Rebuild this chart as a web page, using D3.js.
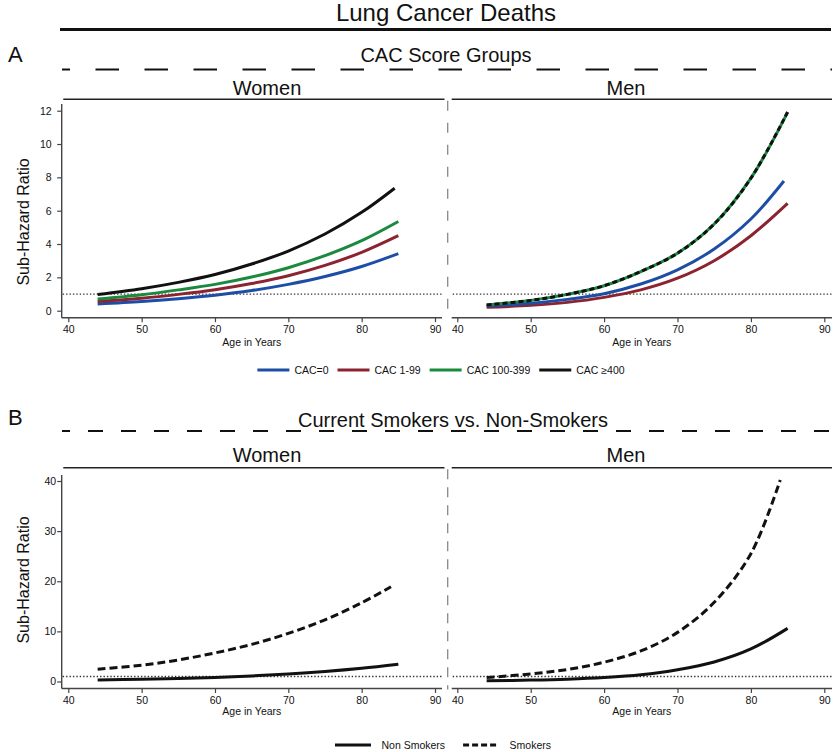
<!DOCTYPE html>
<html><head><meta charset="utf-8">
<script src="https://cdn.jsdelivr.net/npm/d3@7"></script>
<style>
body{margin:0;background:#fff}
svg{display:block}
text{font-family:"Liberation Sans",Arial,Helvetica,sans-serif;fill:#111}
</style>
</head><body>
<svg id="chart" width="837" height="752"></svg>
<script>
// ---------------- DATA ----------------
const ages      = [44, 50, 55, 60, 65, 70, 75, 80, 85];
const agesTo845 = [44, 50, 55, 60, 65, 70, 75, 80, 84.5];
const agesTo84  = [44, 50, 55, 60, 65, 70, 75, 80, 84];

const xTicks  = [40, 50, 60, 70, 80, 90];
const yTicksA = [0, 2, 4, 6, 8, 10, 12];
const yTicksB = [0, 10, 20, 30, 40];

const cacLabels = ["CAC=0", "CAC 1-99", "CAC 100-399", "CAC \u2265400"];
const cacColors = ["#1d4ea6", "#8c2330", "#1b8a3e", "#111111"];

// Panel A, women
const cac0W   = [0.40, 0.55, 0.72, 0.93, 1.21, 1.58, 2.05, 2.65, 3.42];
const cac1W   = [0.55, 0.75, 0.98, 1.26, 1.63, 2.10, 2.72, 3.50, 4.50];
const cac100W = [0.70, 0.96, 1.25, 1.58, 2.02, 2.58, 3.30, 4.20, 5.35];
const cac400W = [0.97, 1.32, 1.70, 2.17, 2.80, 3.58, 4.60, 5.90, 7.35];
// Panel A, men
const cac0M   = [0.28, 0.45, 0.68, 1.02, 1.60, 2.45, 3.70, 5.50, 7.78];
const cac1M   = [0.20, 0.32, 0.50, 0.80, 1.25, 1.95, 3.00, 4.50, 6.44];
const cac100M = [0.34, 0.62, 0.98, 1.50, 2.35, 3.45, 5.20, 7.95, 11.90];
const cac400M = [0.34, 0.62, 0.98, 1.50, 2.35, 3.45, 5.20, 7.95, 11.92];

const smokeLabels = ["Non Smokers", "Smokers"];
// Panel B
const nonSmkW = [0.32, 0.45, 0.60, 0.82, 1.10, 1.48, 1.98, 2.62, 3.43];
const smkW    = [2.45, 3.25, 4.30, 5.70, 7.40, 9.60, 12.3, 15.7, 18.9];
const nonSmkM = [0.15, 0.28, 0.47, 0.80, 1.35, 2.35, 3.90, 6.50, 10.6];
const smkM    = [0.80, 1.50, 2.40, 3.85, 6.10, 9.80, 15.8, 25.5, 40.2];

// ---------------- DRAW ----------------
const svg = d3.select("#chart");
const zip = (xs, ys) => xs.map((x, i) => [x, ys[i]]);

svg.append("text").attr("x", 446).attr("y", 21).attr("text-anchor", "middle")
  .attr("font-size", 24).text("Lung Cancer Deaths");
svg.append("line").attr("x1", 60).attr("x2", 831).attr("y1", 29.5).attr("y2", 29.5)
  .attr("stroke", "#111").attr("stroke-width", 3);

const panelsX = [
  {sex: "Women", range: [68.3, 435], axis: [61.7, 442], strip: [63.3, 444.5], labelX: 267, hasY: true},
  {sex: "Men",   range: [457.3, 824.3], axis: [451.7, 832], strip: [451.7, 832], labelX: 626, hasY: false}
];

function section(o) {
  svg.append("text").attr("x", 8).attr("y", o.letterY).attr("font-size", 22).text(o.letter);
  svg.append("line").attr("x1", 62).attr("x2", 832).attr("y1", o.dashY).attr("y2", o.dashY)
    .attr("stroke", "#111").attr("stroke-width", 2)
    .attr("stroke-dasharray", o.dash).attr("stroke-dashoffset", o.dashOffset);
  svg.append("text").attr("x", o.titleX).attr("y", o.titleY).attr("text-anchor", "middle")
    .attr("font-size", 20).text(o.title);

  const y = d3.scaleLinear().domain(o.yDomain).range(o.yRange);

  panelsX.forEach((p, pi) => {
    const x = d3.scaleLinear().domain([40, 90]).range(p.range);
    const g = svg.append("g");
    // strip
    g.append("text").attr("x", p.labelX).attr("y", o.stripTextY).attr("text-anchor", "middle")
      .attr("font-size", 20).text(p.sex);
    g.append("line").attr("x1", p.strip[0]).attr("x2", p.strip[1])
      .attr("y1", o.stripY).attr("y2", o.stripY).attr("stroke", "#222").attr("stroke-width", 1.6);
    // x axis
    const xa = g.append("g").attr("transform", `translate(0,${o.axisY})`)
      .call(d3.axisBottom(x).tickValues(xTicks).tickSize(4.5).tickPadding(3.5).tickSizeOuter(0));
    xa.select(".domain").remove();
    xa.selectAll("line").attr("stroke", "#444").attr("stroke-width", 1.2);
    xa.selectAll("text").attr("font-size", 10.5).attr("fill", "#111")
      .attr("font-family", '"Liberation Sans",Arial,sans-serif');
    g.append("line").attr("x1", p.axis[0]).attr("x2", p.axis[1]).attr("y1", o.axisY).attr("y2", o.axisY)
      .attr("stroke", "#444").attr("stroke-width", 1.4);
    g.append("text").attr("x", (p.axis[0] + p.axis[1]) / 2).attr("y", o.xLabelY)
      .attr("text-anchor", "middle").attr("font-size", 10.5).text("Age in Years");
    // y axis
    if (p.hasY) {
      const ya = g.append("g").attr("transform", `translate(${p.axis[0]},0)`)
        .call(d3.axisLeft(y).tickValues(o.yTicks).tickSize(4.5).tickPadding(o.yPad).tickSizeOuter(0));
      ya.select(".domain").remove();
      ya.selectAll("line").attr("stroke", "#444").attr("stroke-width", 1.2);
      ya.selectAll("text").attr("font-size", 10.5).attr("fill", "#111")
        .attr("font-family", '"Liberation Sans",Arial,sans-serif');
      g.append("line").attr("x1", p.axis[0]).attr("x2", p.axis[0]).attr("y1", o.yTop).attr("y2", o.axisY)
        .attr("stroke", "#444").attr("stroke-width", 1.4);
      g.append("text").attr("transform", `translate(28.5,${o.yLabelY}) rotate(-90)`)
        .attr("text-anchor", "middle").attr("font-size", 16).text("Sub-Hazard Ratio");
    } else {
      // dashed separator between panels
      g.append("line").attr("x1", 447.7).attr("x2", 447.7).attr("y1", o.stripY + 1.5).attr("y2", o.axisY + 1)
        .attr("stroke", "#888").attr("stroke-width", 1.3).attr("stroke-dasharray", o.sepDash);
    }
    // reference line at 1
    g.append("line").attr("x1", p.axis[0] + 1).attr("x2", p.axis[1]).attr("y1", y(1)).attr("y2", y(1))
      .attr("stroke", "#333").attr("stroke-width", 1.3).attr("stroke-dasharray", "1.4,2");
    // curves
    const line = d3.line().x(d => x(d[0])).y(d => y(d[1])).curve(d3.curveCatmullRom.alpha(0.5));
    o.series[pi].forEach(s => {
      g.append("path").datum(zip(s.ages, s.values)).attr("d", line)
        .attr("fill", "none").attr("stroke", s.color).attr("stroke-width", 3)
        .attr("stroke-dasharray", s.dash || null);
    });
  });
}

section({
  letter: "A", letterY: 62, title: "CAC Score Groups", titleX: 446, titleY: 61.5,
  dashY: 69.5, dash: "23.5,25.5", dashOffset: 15.5,
  stripTextY: 95, stripY: 99.3, axisY: 317.7, yTop: 104,
  yDomain: [0, 12], yRange: [310.7, 110.7], yTicks: yTicksA, yPad: 5.5, yLabelY: 222,
  xLabelY: 346, sepDash: "10,12",
  series: [
    [
      {ages: ages, values: cac0W, color: cacColors[0]},
      {ages: ages, values: cac1W, color: cacColors[1]},
      {ages: ages, values: cac100W, color: cacColors[2]},
      {ages: agesTo845, values: cac400W, color: cacColors[3]}
    ],
    [
      {ages: ages, values: cac1M, color: cacColors[1]},
      {ages: agesTo845, values: cac0M, color: cacColors[0]},
      {ages: ages, values: cac100M, color: cacColors[2]},
      {ages: ages, values: cac400M, color: cacColors[3], dash: "5,3"}
    ]
  ]
});

section({
  letter: "B", letterY: 425, title: "Current Smokers vs. Non-Smokers", titleX: 453, titleY: 427.3,
  dashY: 431, dash: "15,18", dashOffset: 7,
  stripTextY: 462, stripY: 467.7, axisY: 688.5, yTop: 475,
  yDomain: [0, 40], yRange: [681.5, 481], yTicks: yTicksB, yPad: 1, yLabelY: 580,
  xLabelY: 715, sepDash: "10,8",
  series: [
    [
      {ages: ages, values: nonSmkW, color: "#111"},
      {ages: agesTo84, values: smkW, color: "#111", dash: "8,4"}
    ],
    [
      {ages: ages, values: nonSmkM, color: "#111"},
      {ages: agesTo84, values: smkM, color: "#111", dash: "8,4"}
    ]
  ]
});

// ---------------- LEGENDS ----------------
function legend(items, cy, lineLen, textGap, itemGap, centerX) {
  const g = svg.append("g");
  let cx = 0;
  items.forEach(it => {
    g.append("line").attr("x1", cx).attr("x2", cx + lineLen).attr("y1", cy).attr("y2", cy)
      .attr("stroke", it.color).attr("stroke-width", 3).attr("stroke-dasharray", it.dash || null);
    const t = g.append("text").attr("x", cx + lineLen + textGap).attr("y", cy + 3.8)
      .attr("font-size", 10.5).text(it.label);
    cx += lineLen + textGap + t.node().getComputedTextLength() + itemGap;
  });
  const w = cx - itemGap;
  g.attr("transform", `translate(${centerX - w / 2},0)`);
}
legend(cacLabels.map((l, i) => ({label: l, color: cacColors[i]})), 370, 32, 5, 9, 441);
legend([{label: smokeLabels[0], color: "#111"}, {label: smokeLabels[1], color: "#111", dash: "6,3"}],
  745, 36, 10.5, 18, 443);
</script>
</body></html>
